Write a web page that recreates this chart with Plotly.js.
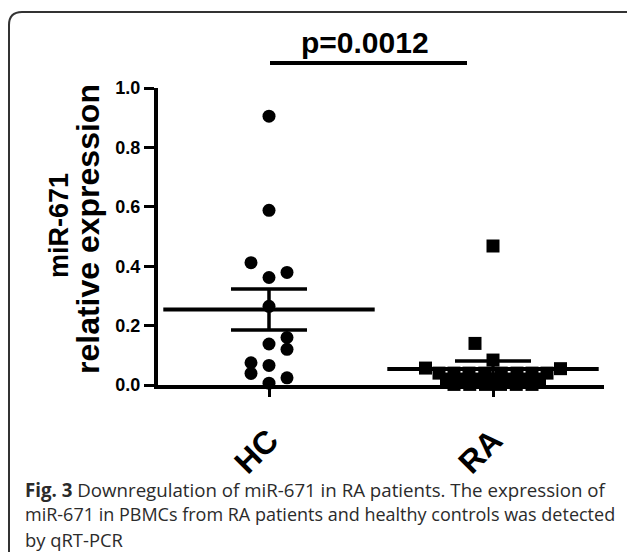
<!DOCTYPE html>
<html>
<head>
<meta charset="utf-8">
<script src="https://cdn.plot.ly/plotly-3.0.1.min.js"></script>
<style>
  html, body { margin: 0; padding: 0; background: #ffffff; }
  #chart { width: 627px; height: 552px; }
</style>
</head>
<body>
<div id="chart"></div>
<script>
// ---- data ----
const groups = ["HC", "RA"];
const hcValues  = [0.905, 0.588, 0.412, 0.379, 0.362, 0.265, 0.160, 0.138, 0.120, 0.075, 0.066, 0.039, 0.024, 0.006];
const hcJitter  = [0, 0, -1, 1, 0, 0, 1, 0, 1, -1, 0, -1, 1, 0];
const raValues  = [0.468, 0.140, 0.084, 0.057, 0.055,
                   0.040, 0.040, 0.040, 0.040, 0.040, 0.040, 0.040, 0.040,
                   0.020, 0.020, 0.020, 0.020, 0.020, 0.020, 0.020,
                   0.002, 0.002, 0.002, 0.002, 0.002, 0.002];
const raJitter  = [0, -1.2, 0, -4.5, 4.5,
                   -3.6, -2.6, -1.6, -0.55, 0.55, 1.6, 2.6, 3.6,
                   -3.1, -2.05, -1.0, 0, 1.0, 2.05, 3.1,
                   -2.6, -1.55, -0.5, 0.5, 1.55, 2.6];
const groupMeans = [0.254, 0.054];
const groupSem   = [0.069, 0.027];
const pValueText = "p=0.0012";
const yTicks = [0, 0.2, 0.4, 0.6, 0.8, 1.0];
const captionLines = [
  "<b>Fig. 3</b> Downregulation of miR-671 in RA patients. The expression of",
  "miR-671 in PBMCs from RA patients and healthy controls was detected",
  "by qRT-PCR"
];

// ---- geometry helpers (pixels -> paper) ----
const L = 158, R = 604, T = 88, B = 385;
const px = v => (v - L) / (R - L);
const py = v => (B - v) / (B - T);
const hcStep = 18 / 224;
const raStep = 15 / 224;

const traces = [
  {
    x: hcValues.map((v, i) => 0 + hcJitter[i] * hcStep),
    y: hcValues,
    type: "scatter", mode: "markers", cliponaxis: false,
    marker: { symbol: "circle", size: 13, color: "#000" },
    hoverinfo: "y"
  },
  {
    x: raValues.map((v, i) => 1 + raJitter[i] * raStep),
    y: raValues,
    type: "scatter", mode: "markers", cliponaxis: false,
    marker: { symbol: "square", size: 13, color: "#000" },
    hoverinfo: "y"
  },
  {
    x: groups.map((g, i) => i),
    y: groupMeans,
    type: "scatter", mode: "markers", cliponaxis: false,
    marker: { symbol: "line-ew", size: 151, color: "#000", line: { color: "#000", width: 4 } },
    error_y: { type: "data", array: groupSem, visible: true, color: "#000", thickness: 3.5, width: 38 },
    hoverinfo: "y"
  }
];

const capFamily = "Open Sans, Noto Sans, sans-serif";
const capSizes = [18.7, 18.0, 18.4];
const capY = [489, 514, 539];

const layout = {
  width: 627, height: 552,
  margin: { l: L, r: 627 - R, t: T, b: 552 - B, pad: 0 },
  paper_bgcolor: "#fff", plot_bgcolor: "#fff",
  showlegend: false,
  font: { family: "Liberation Sans, Arial, sans-serif", color: "#000" },
  xaxis: {
    range: [-0.4955, 1.4955],
    tickvals: [0, 1], ticktext: groups,
    tickangle: -45,
    tickfont: { size: 32, weight: "bold", color: "#000" },
    ticklabelstandoff: 12,
    ticks: "outside", ticklen: 8, tickwidth: 3, tickcolor: "#000",
    showline: true, linecolor: "#000", linewidth: 4,
    showgrid: false, zeroline: false, fixedrange: true
  },
  yaxis: {
    range: [0, 1],
    tickvals: yTicks, tickformat: ".1f",
    tickfont: { size: 18, weight: "bold", color: "#000" },
    ticks: "outside", ticklen: 10, tickwidth: 3, tickcolor: "#000",
    showline: true, linecolor: "#000", linewidth: 4,
    showgrid: false, zeroline: false, fixedrange: true
  },
  shapes: [
    { type: "line", xref: "paper", yref: "paper", x0: px(270), x1: px(467), y0: py(63), y1: py(63),
      line: { color: "#000", width: 4 } },
    { type: "path", xref: "paper", yref: "paper",
      path: `M ${px(9)},${py(570)} L ${px(9)},${py(25)} Q ${px(9)},${py(12)} ${px(22)},${py(12)} L ${px(660)},${py(12)}`,
      line: { color: "#333", width: 2 } }
  ],
  annotations: [
    { text: pValueText, xref: "paper", yref: "paper", x: px(365), y: py(42), showarrow: false,
      xanchor: "center", yanchor: "middle",
      font: { family: "Liberation Sans, Arial, sans-serif", size: 30, weight: "bold", color: "#000" } },
    { text: "miR-671", xref: "paper", yref: "paper", x: px(59), y: py(226), textangle: -90,
      showarrow: false, xanchor: "center", yanchor: "middle",
      font: { size: 27, weight: "bold", color: "#000" } },
    { text: "relative expression", xref: "paper", yref: "paper", x: px(88), y: py(229), textangle: -90,
      showarrow: false, xanchor: "center", yanchor: "middle",
      font: { size: 32, weight: "bold", color: "#000" } }
  ].concat(captionLines.map((t, i) => ({
    text: t, xref: "paper", yref: "paper", x: px(23), y: py(capY[i]), showarrow: false,
    xanchor: "left", yanchor: "middle",
    font: { family: capFamily, size: capSizes[i], color: "#2b2b2b" }
  })))
};

Plotly.newPlot("chart", traces, layout, { staticPlot: true, displayModeBar: false });
</script>
</body>
</html>
